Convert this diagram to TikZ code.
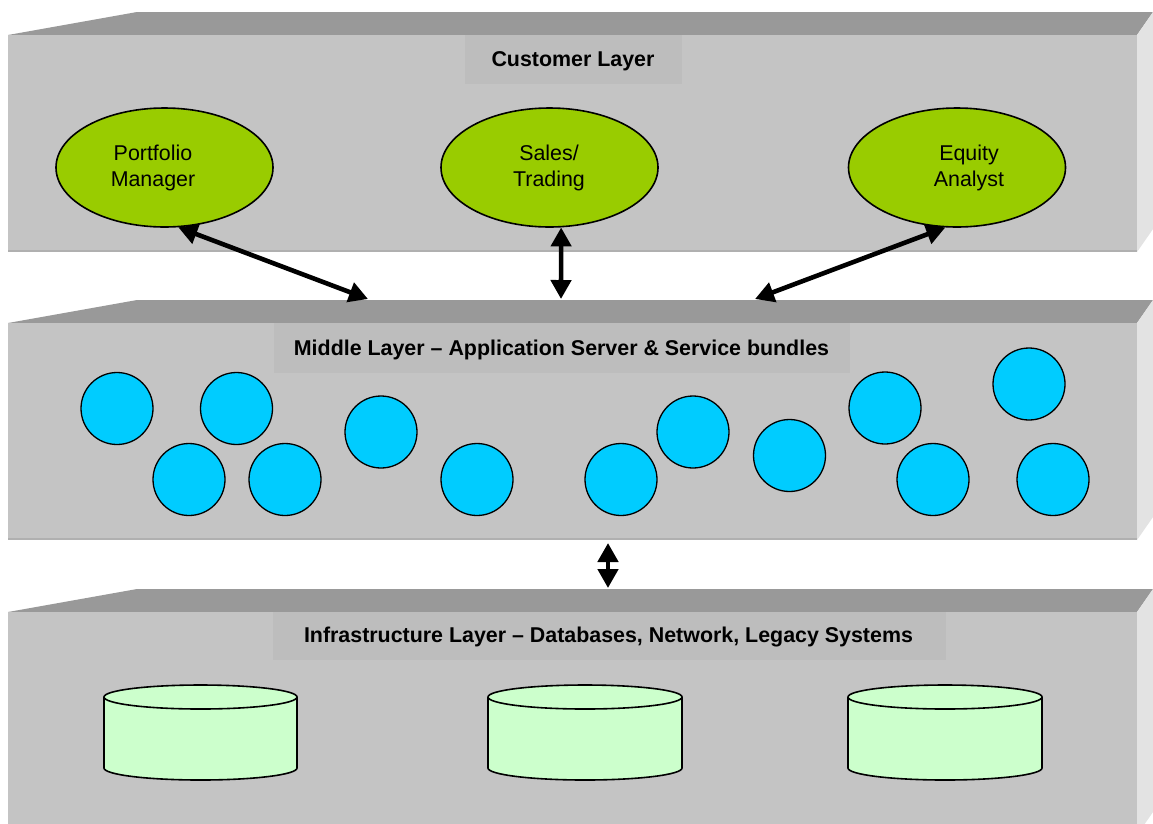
\documentclass[tikz,border=0pt]{standalone}
\usepackage{fontspec}
\setmainfont{Liberation Sans}
\usetikzlibrary{arrows.meta,shapes.geometric}
\definecolor{slabfront}{HTML}{C4C4C4}
\definecolor{slabtop}{HTML}{999999}
\definecolor{slabside}{HTML}{E3E3E3}
\definecolor{slabedge}{HTML}{B0B0B0}
\definecolor{titlebg}{HTML}{BDBDBD}
\definecolor{rolegreen}{HTML}{99CC00}
\definecolor{svcblue}{HTML}{00CCFF}
\definecolor{dbgreen}{HTML}{CCFFCC}
\tikzset{
  titlebox/.style={fill=titlebg, inner sep=0pt, anchor=north west},
  titletext/.style={font=\fontsize{21.4}{25}\selectfont\bfseries, inner sep=0pt, anchor=base},
  role/.style={ellipse, draw=black, line width=1.6pt, fill=rolegreen, minimum width=217pt, minimum height=119pt, inner sep=0pt},
  roletext/.style={font=\fontsize{21.4}{25}\selectfont, inner sep=0pt, anchor=base},
  svc/.style={circle, draw=black, line width=1.3pt, fill=svcblue, minimum size=72pt, inner sep=0pt},
  link/.style={line width=4.6pt, {Triangle[length=19pt,width=20pt]}-{Triangle[length=19pt,width=20pt]}},
  db/.style={draw=black, line width=1.6pt, fill=dbgreen}
}
% one 3D slab: front face from y=#1 to y=#2, depth 23 upwards
\newcommand\layerslab[2]{%
  \fill[slabtop] (8,#1) -- (137,{#1-23}) -- (1153,{#1-23}) -- (1137,#1) -- cycle;
  \fill[slabside] (1137,#1) -- (1153,{#1-23}) -- (1153,{#2-23}) -- (1137,#2) -- cycle;
  \fill[slabfront] (8,#1) rectangle (1137,#2);
  \fill[slabedge] (8,{#2-2}) rectangle (1137,#2);
}
% database cylinder: left x, right x, top y, bottom y
\newcommand\dbcyl[4]{%
  \pgfmathsetmacro\rx{(#2-#1)/2}
  \path[db] (#1,#3) -- (#1,#4) arc[start angle=180,end angle=360,x radius=\rx pt,y radius=12pt] -- (#2,#3) arc[start angle=0,end angle=180,x radius=\rx pt,y radius=12pt] -- cycle;
  \draw[db] (#1,#3) arc[start angle=180,end angle=360,x radius=\rx pt,y radius=12pt];
}
\begin{document}
\begin{tikzpicture}[x=1pt,y=-1pt]
\useasboundingbox (0,0) rectangle (1153,823);
\fill[white] (0,0) rectangle (1153,823);

% layers
\layerslab{35}{252}
\layerslab{323}{540}
\layerslab{612}{835}

% layer titles
\node[titlebox, minimum width=217pt, minimum height=49pt] (custB) at (465,35) {};
\node[titletext] (custT) at (573,66) {Customer Layer};
\node[titlebox, minimum width=576pt, minimum height=50pt] (midB) at (274,323) {};
\node[titletext] (midT) at (561.5,355) {Middle Layer -- Application Server \& Service bundles};
\node[titlebox, minimum width=673pt, minimum height=48pt] (infB) at (273,612) {};
\node[titletext] (infT) at (608.5,642) {Infrastructure Layer -- Databases, Network, Legacy Systems};

% customer roles
\node[role] (pm) at (164.5,167.5) {};
\node[roletext] (pmT1) at (153,160) {Portfolio};
\node[roletext] (pmT2) at (153,186) {Manager};
\node[role] (st) at (549.5,167.5) {};
\node[roletext] (stT1) at (549,160) {Sales/};
\node[roletext] (stT2) at (549,186) {Trading};
\node[role] (ea) at (957,167.5) {};
\node[roletext] (eaT1) at (969,160) {Equity};
\node[roletext] (eaT2) at (969,186) {Analyst};

% service bundles
\foreach \n/\x/\y in {1/117/408.5, 2/236.5/408.5, 3/189/479.5, 4/285/479.5, 5/381/432,
                      6/477/479.5, 7/621/479.5, 8/693/432, 9/789.5/455.5, 10/885/408,
                      11/1029/384, 12/933/479.5, 13/1053/479.5}
  \node[svc] (svc\n) at (\x,\y) {};

% databases
\dbcyl{104}{297}{697}{768}
\dbcyl{488}{682}{697}{768}
\dbcyl{848}{1042}{697}{768}

% connections
\coordinate (midL) at (368,299);
\coordinate (midC) at (561,299);
\coordinate (midR) at (755,299);
\coordinate (midBot) at (608,543);
\coordinate (infTop) at (608,588);
\draw[link] (pm.-77) -- (midL);
\draw[link] (st.-79) -- (midC);
\draw[link] (ea.-101) -- (midR);
\draw[link] (midBot) -- (infTop);
\end{tikzpicture}
\end{document}
